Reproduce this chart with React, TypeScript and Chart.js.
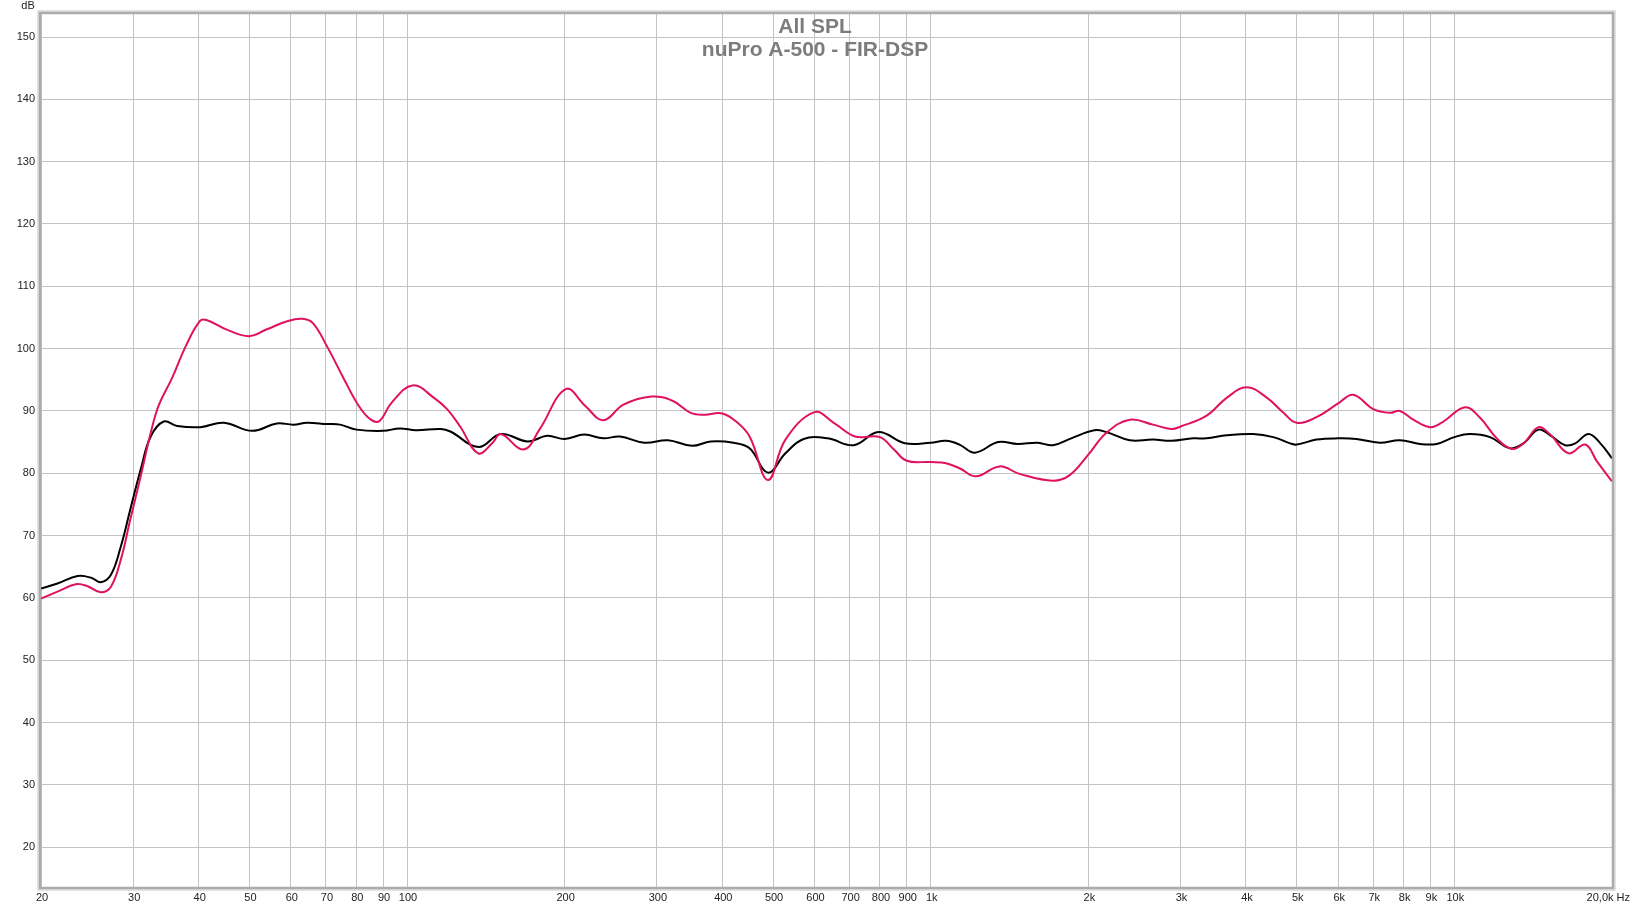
import React, { useEffect, useRef } from "react";
import Chart from "chart.js/auto";

// Red trace (raw SPL), frequency in Hz / level in dB
const redFreq = [
  20, 21.5, 23.3, 24.5, 26, 27.2, 28.4, 29.6, 31, 32.4, 33.6, 35.6, 37.8, 40.2, 41.4, 45.4, 49.9, 54, 59, 63.1,
  66.1, 70.3, 75.6, 80.9, 85.3, 88.6, 93.4, 102.5, 112.6, 119.5, 126.3, 136.8, 145.7, 151, 167, 179, 201, 219,
  237, 259, 293, 322, 348, 370, 400, 425, 451, 489, 528, 600, 653, 717, 800, 851, 900, 1000, 1070, 1135, 1221, 1353,
  1478, 1712, 1843, 2000, 2166, 2399, 2657, 2884, 3000, 3359, 3675, 4012, 4389, 4718, 5000, 5453, 6000, 6408,
  7000, 7530, 7870, 8348, 9000, 9527, 10480, 11197, 12052, 12882, 13555, 14478, 15245, 16520, 17783, 18720, 20000,
];
const redLevel = [
  59.9, 61, 62.2, 61.9, 60.9, 61.8, 66.1, 72.5, 79.5, 86.5, 91, 95.3, 100.4, 104.4, 104.6, 103, 102, 103.1, 104.4,
  104.8, 104.1, 100.4, 95.3, 90.8, 88.6, 88.4, 91.3, 94.1, 92.1, 90.2, 87.5, 83.2, 84.9, 86.3, 83.8, 87, 93.5, 90.8,
  88.5, 91, 92.3, 91.6, 89.7, 89.4, 89.6, 88.3, 85.9, 78.9, 85.4, 89.8, 88.1, 85.9, 85.8, 83.8, 82, 81.8, 81.6, 80.8,
  79.5, 81.1, 79.9, 78.8, 79.7, 83, 86.5, 88.6, 87.8, 87.1, 87.5, 89.2, 92.1, 93.8, 92.1, 89.7, 88.1, 89, 91.2,
  92.6, 90.3, 89.7, 90, 88.6, 87.4, 88.3, 90.6, 88.9, 85.6, 83.9, 84.8, 87.4, 86.2, 83.2, 84.6, 81.9, 78.7,
];

// Black trace (FIR-DSP corrected)
const blackFreq = [
  20, 21.5, 23.5, 25, 26, 27.2, 28.4, 29.6, 31, 32.4, 34.3, 36.4, 40.3, 44.7, 50.6, 56.4, 60.7, 64.4, 70.3, 74.5,
  80.1, 90.1, 96.9, 104, 116, 121, 137, 151, 170, 185, 200, 218, 237, 255, 284, 315, 350, 380, 420, 451, 489, 528,
  572, 636, 713, 795, 893, 1000, 1070, 1135, 1215, 1345, 1466, 1601, 1712, 1855, 2054, 2166, 2399, 2657, 2884,
  3171, 3364, 3675, 4130, 4510, 4856, 5000, 5453, 6000, 6500, 7200, 7870, 8600, 9250, 10000, 10710, 11700, 12780,
  13555, 14478, 15350, 16280, 17020, 18040, 19000, 20000,
];
const blackLevel = [
  61.5, 62.3, 63.5, 63.2, 62.5, 63.7, 68.2, 74.1, 80.6, 85.9, 88.3, 87.6, 87.4, 88.1, 86.8, 88, 87.8, 88.1, 87.9,
  87.8, 87, 86.8, 87.2, 86.9, 87.1, 86.7, 84.2, 86.3, 85.1, 86, 85.5, 86.2, 85.6, 85.9, 84.9, 85.3, 84.4, 85.1,
  84.9, 84, 80.1, 83.2, 85.5, 85.6, 84.5, 86.6, 84.8, 84.9, 85.2, 84.6, 83.3, 85, 84.7, 84.9, 84.5, 85.6, 86.9,
  86.6, 85.3, 85.4, 85.2, 85.6, 85.6, 86.1, 86.3, 85.8, 84.8, 84.6, 85.4, 85.6, 85.5, 84.9, 85.3, 84.7, 84.7, 85.8,
  86.3, 85.8, 84, 84.8, 87, 85.9, 84.5, 84.8, 86.3, 84.8, 82.4,
];

const xTicks = [20, 30, 40, 50, 60, 70, 80, 90, 100, 200, 300, 400, 500, 600, 700, 800, 900, 1000, 2000, 3000, 4000, 5000, 6000, 7000, 8000, 9000, 10000, 20000];
const xTickLabels = ["20", "30", "40", "50", "60", "70", "80", "90", "100", "200", "300", "400", "500", "600", "700", "800", "900", "1k", "2k", "3k", "4k", "5k", "6k", "7k", "8k", "9k", "10k", "20,0k Hz"];
const yTicks = [20, 30, 40, 50, 60, 70, 80, 90, 100, 110, 120, 130, 140, 150];

const titleLines = ["All SPL", "nuPro A-500 - FIR-DSP"];

const FONT = '"Liberation Sans", Arial, sans-serif';

function toPoints(freq: number[], level: number[]) {
  return freq.map((f, i) => ({ x: f, y: level[i] }));
}

export default function App() {
  const canvasRef = useRef<HTMLCanvasElement | null>(null);

  useEffect(() => {
    document.body.style.margin = "0";
    const canvas = canvasRef.current;
    if (!canvas) return;

    const overlay = {
      id: "rewOverlay",
      afterDraw(chart: any) {
        const { ctx, chartArea: a } = chart;
        const xs = chart.scales.x;
        const ys = chart.scales.y;
        ctx.save();

        // frame
        ctx.strokeStyle = "#d8d8d8";
        ctx.lineWidth = 1.5;
        ctx.strokeRect(a.left - 3, a.top - 3, a.right - a.left + 6, a.bottom - a.top + 6);
        ctx.strokeStyle = "#ababab";
        ctx.lineWidth = 2.5;
        ctx.strokeRect(a.left - 1, a.top - 1, a.right - a.left + 2, a.bottom - a.top + 2);

        // tick labels
        ctx.fillStyle = "#222";
        ctx.font = `11px ${FONT}`;
        ctx.textBaseline = "middle";
        ctx.textAlign = "right";
        yTicks.forEach((v) => ctx.fillText(String(v), 35, ys.getPixelForValue(v)));
        ctx.textAlign = "center";
        ctx.fillText("dB", 28, 6);
        xTicks.forEach((v, i) => {
          const px = xs.getPixelForValue(v);
          if (i === xTicks.length - 1) {
            ctx.textAlign = "right";
            ctx.fillText(xTickLabels[i], 1630, 898);
            ctx.textAlign = "center";
          } else {
            ctx.fillText(xTickLabels[i], px + 1, 898);
          }
        });

        // title
        ctx.fillStyle = "#7c7c7c";
        ctx.font = `bold 21px ${FONT}`;
        ctx.textBaseline = "alphabetic";
        ctx.textAlign = "center";
        ctx.fillText(titleLines[0], 815, 33);
        ctx.fillText(titleLines[1], 815, 56);
        ctx.restore();
      },
    };

    const chart = new Chart(canvas, {
      type: "line",
      data: {
        datasets: [
          {
            data: toPoints(redFreq, redLevel),
            borderColor: "#e0115f",
            borderWidth: 2,
            pointRadius: 0,
            tension: 0.4,
          },
          {
            data: toPoints(blackFreq, blackLevel),
            borderColor: "#000000",
            borderWidth: 2,
            pointRadius: 0,
            tension: 0.4,
          },
        ],
      },
      options: {
        animation: false,
        responsive: true,
        maintainAspectRatio: false,
        layout: { padding: { top: 14, right: 20, left: 0, bottom: 0 } },
        plugins: {
          legend: { display: false },
          tooltip: { enabled: false },
          title: { display: false },
        },
        scales: {
          x: {
            type: "logarithmic",
            min: 20,
            max: 20000,
            ticks: { display: false },
            grid: { color: "#c3c3c3", lineWidth: 1, drawTicks: false },
            border: { display: false },
            afterBuildTicks: (s: any) => {
              s.ticks = xTicks.map((v) => ({ value: v }));
            },
            afterFit: (s: any) => {
              s.height = 22;
            },
          },
          y: {
            type: "linear",
            min: 13.6,
            max: 153.7,
            ticks: { display: false },
            grid: { color: "#c3c3c3", lineWidth: 1, drawTicks: false },
            border: { display: false },
            afterBuildTicks: (s: any) => {
              s.ticks = yTicks.map((v) => ({ value: v }));
            },
            afterFit: (s: any) => {
              s.width = 41;
            },
          },
        },
      },
      plugins: [overlay],
    });

    return () => chart.destroy();
  }, []);

  return (
    <div style={{ width: 1632, height: 909, position: "relative" }}>
      <canvas ref={canvasRef} />
    </div>
  );
}
